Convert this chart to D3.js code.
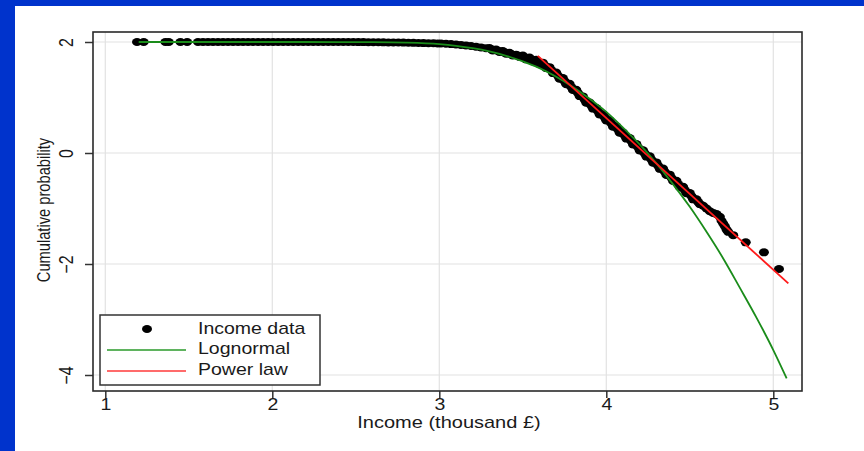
<!DOCTYPE html>
<html><head><meta charset="utf-8">
<script src="https://cdn.jsdelivr.net/npm/d3@7"></script>
<style>body{margin:0;background:#0033cc;} svg{display:block}</style>
</head><body><svg id="c" width="864" height="451"></svg>
<script>
const xTicks = [1, 2, 3, 4, 5];
const yTicks = [2, 0, -2, -4];
const xTitle = "Income (thousand £)";
const yTitle = "Cumulative probability";
const legendLabels = ["Income data", "Lognormal", "Power law"];

const incomeX = [1.19,1.23,1.36,1.38,1.45,1.49,1.555,1.585,1.615,1.645,1.675,1.705,1.735,1.765,1.795,1.825,1.855,1.885,1.915,1.945,1.975,2.005,2.035,2.065,2.095,2.125,2.155,2.185,2.215,2.245,2.275,2.305,2.335,2.365,2.395,2.425,2.455,2.485,2.515,2.545,2.575,2.605,2.635,2.665,2.695,2.725,2.755,2.785,2.815,2.845,2.875,2.905,2.935,2.965,2.99,
3.01,3.04,3.07,3.10,3.13,3.16,3.19,3.22,3.25,3.28,
3.30,3.32,3.34,3.36,3.38,3.40,3.42,3.44,3.46,3.48,3.50,3.52,3.54,3.56,3.58,3.60,3.62,3.64,3.66,3.68,3.70,3.72,3.74,3.76,3.78,3.80,3.82,3.84,3.86,3.88,3.90,3.92,3.94,3.96,3.98,4.00,4.02,4.04,4.06,4.08,4.10,4.12,4.14,4.16,4.18,4.20,4.22,4.24,4.26,4.28,4.30,4.32,4.34,4.36,4.38,4.40,4.42,4.44,4.46,4.48,4.50,4.52,4.54,4.56,4.58,4.60,4.62,4.64,4.66,4.68,4.69,4.70,4.71,4.72,4.73,4.76,4.835,4.944,5.034,
3.31,3.33,3.35,3.37,3.39,3.41,3.43,3.45,3.47,3.49,3.51,3.53,3.55,3.57,3.59,3.61,3.63,3.65,3.67,3.69,3.71,3.73,3.75,3.77,3.79,3.81,3.83,3.85,3.87,3.89,3.91,3.93,3.95,3.97,3.99,4.01,4.03,4.05,4.07,4.09,4.11,4.13,4.15,4.17,4.19,4.21,4.23,4.25,4.27,4.29,4.31,4.33,4.35,4.37,4.39,4.41,4.43,4.45,4.47,4.49,4.51,4.53,4.55];
const incomeY = [2,2,2,2,2,2,2,2,2,2,2,2,2,2,2,2,2,2,2,2,2,2,2,2,2,2,2,2,2,2,2,2,2,2,2,2,2,2,1.999,1.998,1.997,1.996,1.995,1.994,1.993,1.992,1.991,1.989,1.987,1.985,1.983,1.981,1.979,1.977,1.975,
1.974,1.969,1.963,1.956,1.948,1.939,1.928,1.916,1.902,1.887,
1.890,1.848,1.865,1.821,1.836,1.790,1.805,1.759,1.772,1.733,1.755,1.687,1.719,1.650,1.680,1.600,1.628,1.530,1.547,1.440,1.450,1.340,1.350,1.238,1.246,1.135,1.140,1.025,1.020,0.905,0.910,0.800,0.810,0.695,0.700,0.585,0.590,0.475,0.480,0.365,0.370,0.260,0.270,0.155,0.160,0.045,0.050,-0.065,-0.060,-0.175,-0.170,-0.285,-0.280,-0.395,-0.390,-0.505,-0.500,-0.615,-0.610,-0.725,-0.720,-0.835,-0.835,-0.92,-0.95,-1.00,-1.05,-1.08,-1.10,-1.15,-1.22,-1.27,-1.32,-1.38,-1.42,-1.48,-1.61,-1.79,-2.09,
1.869,1.857,1.843,1.829,1.813,1.798,1.782,1.766,1.752,1.739,1.721,1.703,1.685,1.665,1.643,1.614,1.579,1.539,1.494,1.445,1.395,1.345,1.294,1.242,1.190,1.138,1.083,1.023,0.963,0.908,0.855,0.805,0.753,0.698,0.643,0.588,0.533,0.478,0.423,0.368,0.315,0.265,0.213,0.158,0.103,0.048,-0.008,-0.063,-0.118,-0.173,-0.228,-0.283,-0.338,-0.393,-0.448,-0.503,-0.558,-0.613,-0.668,-0.723,-0.778,-0.833,-0.885];

const lognormalX = [1.2,1.6,2.0,2.4,2.6,2.8,3.0,3.1,3.2,3.3,3.4,3.5,3.6,3.7,3.8,3.9,4.0,4.1,4.2,4.3,4.4,4.5,4.6,4.7,4.8,4.9,5.0,5.08];
const lognormalY = [2.0,2.0,2.0,1.999,1.997,1.988,1.96,1.93,1.888,1.83,1.751,1.65,1.53,1.375,1.19,0.978,0.74,0.458,0.155,-0.188,-0.565,-0.97,-1.42,-1.90,-2.43,-2.97,-3.55,-4.06];

const powerX = [3.59, 5.09];
const powerY = [1.75, -2.35];

const FONT = "'Liberation Sans', Arial, sans-serif";
const SX = 1.22;
const svg = d3.select("#c");
svg.append("rect").attr("width",864).attr("height",451).attr("fill","#0033cc");
svg.append("rect").attr("x",15).attr("y",6).attr("width",849).attr("height",445).attr("fill","#ffffff");

const F = {l:93, r:802, t:32, b:391};
const x = d3.scaleLinear().domain([1,5]).range([105.3,773.3]);
const y = d3.scaleLinear().domain([2,-4]).range([42,375]);

const grid = svg.append("g").attr("stroke","#e2e2e2").attr("stroke-width",1.2);
grid.selectAll(".gx").data(xTicks).join("line").attr("x1",d=>x(d)).attr("x2",d=>x(d)).attr("y1",F.t).attr("y2",F.b);
grid.selectAll(".gy").data(yTicks).join("line").attr("y1",d=>y(d)).attr("y2",d=>y(d)).attr("x1",F.l).attr("x2",F.r);

// axes
const ax = svg.append("g").attr("transform",`translate(0,${F.b})`)
  .call(d3.axisBottom(x).tickValues(xTicks).tickSize(7).tickFormat(d3.format("d")));
ax.attr("font-size",16).attr("font-family",FONT);
ax.select(".domain").remove();
ax.selectAll("line").attr("stroke","#333").attr("stroke-width",1.5);
ax.selectAll("text").attr("y",null).attr("dy",null).attr("fill","#1a1a1a")
  .attr("transform",`translate(0,19) scale(${SX},1)`);

const ay = svg.append("g").attr("transform",`translate(${F.l},0)`)
  .call(d3.axisLeft(y).tickValues(yTicks).tickSize(8).tickFormat(d3.format("d")));
ay.attr("font-size",16).attr("font-family",FONT);
ay.select(".domain").remove();
ay.selectAll("line").attr("stroke","#333").attr("stroke-width",1.5);
ay.selectAll("text").attr("x",null).attr("dy",null).attr("fill","#1a1a1a").attr("text-anchor","middle")
  .attr("transform",`translate(-20,0) scale(${SX},1) rotate(-90)`);

// frame
svg.append("rect").attr("x",F.l).attr("y",F.t).attr("width",F.r-F.l).attr("height",F.b-F.t)
  .attr("fill","none").attr("stroke","#2a2a2a").attr("stroke-width",1.6);

// titles
svg.append("text").attr("transform",`translate(449,427.5) scale(${SX},1)`).attr("text-anchor","middle")
  .attr("font-family",FONT).attr("font-size",16.4).attr("fill","#1a1a1a").text(xTitle);
svg.append("text").attr("transform",`translate(50,210) scale(${SX},1) rotate(-90)`).attr("text-anchor","middle")
  .attr("font-family",FONT).attr("font-size",14.7).attr("fill","#1a1a1a").text(yTitle);

// data
const pts = incomeX.map((v,i)=>[v,incomeY[i]]);
svg.append("g").selectAll("ellipse").data(pts).join("ellipse")
  .attr("cx",d=>x(d[0])).attr("cy",d=>y(d[1])).attr("rx",5).attr("ry",4).attr("fill","#000");

const line = d3.line().x(d=>x(d[0])).y(d=>y(d[1]));
svg.append("path").datum(lognormalX.map((v,i)=>[v,lognormalY[i]]))
  .attr("d",line.curve(d3.curveMonotoneX)).attr("fill","none").attr("stroke","#1a8c1a").attr("stroke-width",1.8);
svg.append("path").datum(powerX.map((v,i)=>[v,powerY[i]]))
  .attr("d",d3.line().x(d=>x(d[0])).y(d=>y(d[1]))).attr("fill","none").attr("stroke","#ff1a1a").attr("stroke-width",1.8);

// legend
const lg = svg.append("g");
lg.append("rect").attr("x",100).attr("y",315).attr("width",220).attr("height",70)
  .attr("fill","#fff").attr("stroke","#333").attr("stroke-width",1.5);
lg.append("ellipse").attr("cx",147).attr("cy",329).attr("rx",5).attr("ry",4).attr("fill","#000");
lg.append("line").attr("x1",107).attr("x2",186).attr("y1",350).attr("y2",350).attr("stroke","#2a9a2a").attr("stroke-width",1.3);
lg.append("line").attr("x1",107).attr("x2",186).attr("y1",371).attr("y2",371).attr("stroke","#ff3a3a").attr("stroke-width",1.3);
const baselines = [333.5, 354, 375];
legendLabels.forEach((t,i)=>{
  lg.append("text").attr("transform",`translate(198,${baselines[i]}) scale(${SX},1)`)
    .attr("font-family",FONT).attr("font-size",16).attr("fill","#1a1a1a").text(t);
});
</script>
</body></html>
